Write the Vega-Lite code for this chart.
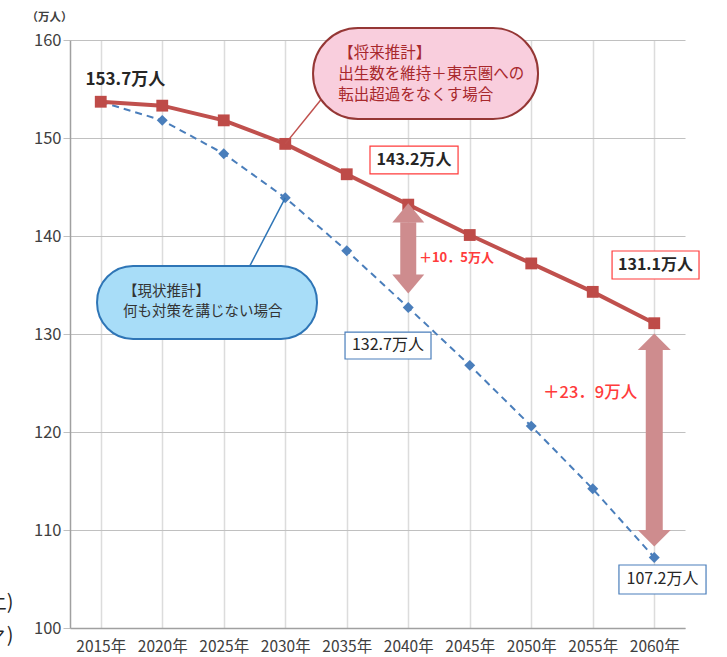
{
  "$schema": "https://vega.github.io/schema/vega-lite/v6.json",
  "width": 615,
  "height": 588,
  "autosize": {"type": "none"},
  "padding": {"left": 70, "top": 40, "right": 42, "bottom": 29},
  "config": {"view": {"stroke": null}, "font": "Noto Sans CJK JP"},
  "datasets": {
    "pop": [
      {"year": 2015, "series": "将来推計", "value": 153.7},
      {"year": 2020, "series": "将来推計", "value": 153.3},
      {"year": 2025, "series": "将来推計", "value": 151.8},
      {"year": 2030, "series": "将来推計", "value": 149.4},
      {"year": 2035, "series": "将来推計", "value": 146.3},
      {"year": 2040, "series": "将来推計", "value": 143.2},
      {"year": 2045, "series": "将来推計", "value": 140.1},
      {"year": 2050, "series": "将来推計", "value": 137.2},
      {"year": 2055, "series": "将来推計", "value": 134.3},
      {"year": 2060, "series": "将来推計", "value": 131.1},
      {"year": 2015, "series": "現状推計", "value": 153.7},
      {"year": 2020, "series": "現状推計", "value": 151.8},
      {"year": 2025, "series": "現状推計", "value": 148.4},
      {"year": 2030, "series": "現状推計", "value": 143.9},
      {"year": 2035, "series": "現状推計", "value": 138.5},
      {"year": 2040, "series": "現状推計", "value": 132.7},
      {"year": 2045, "series": "現状推計", "value": 126.8},
      {"year": 2050, "series": "現状推計", "value": 120.6},
      {"year": 2055, "series": "現状推計", "value": 114.2},
      {"year": 2060, "series": "現状推計", "value": 107.2}
    ],
    "anno": [{"note": "annotation"}]
  },
  "layer": [
    {
      "data": {"name": "pop"},
      "transform": [{"filter": "datum.series === '現状推計'"}],
      "mark": {"type": "line", "color": "#4A7EBB", "strokeWidth": 2, "strokeDash": [7, 5]},
      "encoding": {
        "x": {
          "field": "year",
          "type": "quantitative",
          "scale": {"domain": [2012.5, 2062.5], "nice": false, "zero": false},
          "axis": {
            "values": [2015, 2020, 2025, 2030, 2035, 2040, 2045, 2050, 2055, 2060],
            "labelExpr": "datum.value + '年'",
            "title": null,
            "grid": true,
            "gridColor": "#DCDCDC",
            "gridWidth": 1.5,
            "ticks": false,
            "domainColor": "#A0A0A0",
            "domainWidth": 1.5,
            "labelFontSize": 15.5,
            "labelColor": "#404040",
            "labelPadding": 11,
            "labelFlush": false,
            "labelOverlap": false
          }
        },
        "y": {
          "field": "value",
          "type": "quantitative",
          "scale": {"domain": [100, 160], "nice": false, "zero": false},
          "axis": {
            "values": [100, 110, 120, 130, 140, 150, 160],
            "title": "（万人）",
            "titleAngle": 0,
            "titleX": -21,
            "titleY": -23,
            "titleAlign": "center",
            "titleBaseline": "middle",
            "titleFontSize": 11.5,
            "titleFontWeight": "bold",
            "titleColor": "#404040",
            "grid": true,
            "gridColor": "#C0C0C0",
            "gridWidth": 1.2,
            "tickColor": "#C0C0C0",
            "tickSize": 7,
            "domainColor": "#A0A0A0",
            "domainWidth": 1.5,
            "labelFontSize": 16.5,
            "labelColor": "#404040",
            "labelPadding": 2
          }
        }
      }
    },
    {
      "data": {"name": "pop"},
      "transform": [{"filter": "datum.series === '現状推計'"}],
      "mark": {"type": "point", "shape": "diamond", "filled": true, "size": 120, "color": "#4A7EBB", "opacity": 1},
      "encoding": {
        "x": {"field": "year", "type": "quantitative"},
        "y": {"field": "value", "type": "quantitative"}
      }
    },
    {
      "data": {"name": "pop"},
      "transform": [{"filter": "datum.series === '将来推計'"}],
      "mark": {"type": "line", "color": "#C0504D", "strokeWidth": 4},
      "encoding": {
        "x": {"field": "year", "type": "quantitative"},
        "y": {"field": "value", "type": "quantitative"}
      }
    },
    {
      "data": {"name": "pop"},
      "transform": [{"filter": "datum.series === '将来推計'"}],
      "mark": {"type": "square", "size": 140, "color": "#BE4B48", "opacity": 1},
      "encoding": {
        "x": {"field": "year", "type": "quantitative"},
        "y": {"field": "value", "type": "quantitative"}
      }
    },
    {
      "data": {"name": "anno"},
      "mark": {"type": "rule", "color": "#C0504D", "strokeWidth": 1.5},
      "encoding": {
        "x": {"datum": 2030, "type": "quantitative"},
        "y": {"datum": 149.4, "type": "quantitative"},
        "x2": {"datum": 2032.9},
        "y2": {"datum": 153.9}
      }
    },
    {
      "data": {"name": "anno"},
      "mark": {"type": "rule", "color": "#2E75B6", "strokeWidth": 1.5},
      "encoding": {
        "x": {"datum": 2030, "type": "quantitative"},
        "y": {"datum": 143.9, "type": "quantitative"},
        "x2": {"datum": 2027.1},
        "y2": {"datum": 136.9}
      }
    },
    {
      "data": {"name": "anno"},
      "mark": {"type": "rect", "fill": "#F9CEDD", "stroke": "#953735", "strokeWidth": 2, "cornerRadius": 45},
      "encoding": {
        "x": {"datum": 2032.26, "type": "quantitative"},
        "x2": {"datum": 2050.55},
        "y": {"datum": 161.22, "type": "quantitative"},
        "y2": {"datum": 151.94}
      }
    },
    {
      "data": {"name": "anno"},
      "mark": {"type": "text", "text": ["【将来推計】", "出生数を維持＋東京圏への", "転出超過をなくす場合"], "align": "left", "baseline": "middle", "lineHeight": 21, "fontSize": 15.5, "color": "#A8282C"},
      "encoding": {
        "x": {"datum": 2034.3, "type": "quantitative"},
        "y": {"datum": 158.67, "type": "quantitative"}
      }
    },
    {
      "data": {"name": "anno"},
      "mark": {"type": "rect", "fill": "#A8DDF8", "stroke": "#2E75B6", "strokeWidth": 2, "cornerRadius": 36},
      "encoding": {
        "x": {"datum": 2014.7, "type": "quantitative"},
        "x2": {"datum": 2032.58},
        "y": {"datum": 136.94, "type": "quantitative"},
        "y2": {"datum": 129.49}
      }
    },
    {
      "data": {"name": "anno"},
      "mark": {"type": "text", "text": ["【現状推計】", "何も対策を講じない場合"], "align": "left", "baseline": "middle", "lineHeight": 20, "fontSize": 14.5, "color": "#333333"},
      "encoding": {
        "x": {"datum": 2016.8, "type": "quantitative"},
        "y": {"datum": 134.29, "type": "quantitative"}
      }
    },
    {
      "data": {"name": "anno"},
      "mark": {"type": "rule", "color": "#CE8C8E", "strokeWidth": 16},
      "encoding": {
        "x": {"datum": 2040, "type": "quantitative"},
        "y": {"datum": 141.4, "type": "quantitative"},
        "y2": {"datum": 135.9}
      }
    },
    {
      "data": {"name": "anno"},
      "mark": {"type": "point", "shape": "M0,-0.6L1,0.6L-1,0.6Z", "size": 1024, "filled": true, "color": "#CE8C8E", "opacity": 1},
      "encoding": {
        "x": {"datum": 2040, "type": "quantitative"},
        "y": {"datum": 142.35, "type": "quantitative"}
      }
    },
    {
      "data": {"name": "anno"},
      "mark": {"type": "point", "shape": "M0,0.6L1,-0.6L-1,-0.6Z", "size": 1024, "filled": true, "color": "#CE8C8E", "opacity": 1},
      "encoding": {
        "x": {"datum": 2040, "type": "quantitative"},
        "y": {"datum": 135.1, "type": "quantitative"}
      }
    },
    {
      "data": {"name": "anno"},
      "mark": {"type": "rule", "color": "#CE8C8E", "strokeWidth": 17},
      "encoding": {
        "x": {"datum": 2060, "type": "quantitative"},
        "y": {"datum": 128.5, "type": "quantitative"},
        "y2": {"datum": 110.0}
      }
    },
    {
      "data": {"name": "anno"},
      "mark": {"type": "point", "shape": "M0,-0.5L1,0.5L-1,0.5Z", "size": 1089, "filled": true, "color": "#CE8C8E", "opacity": 1},
      "encoding": {
        "x": {"datum": 2060, "type": "quantitative"},
        "y": {"datum": 129.2, "type": "quantitative"}
      }
    },
    {
      "data": {"name": "anno"},
      "mark": {"type": "point", "shape": "M0,0.5L1,-0.5L-1,-0.5Z", "size": 1089, "filled": true, "color": "#CE8C8E", "opacity": 1},
      "encoding": {
        "x": {"datum": 2060, "type": "quantitative"},
        "y": {"datum": 109.15, "type": "quantitative"}
      }
    },
    {
      "data": {"name": "anno"},
      "mark": {"type": "rect", "fill": "white", "stroke": "#FF3B3B", "strokeWidth": 1.2},
      "encoding": {
        "x": {"datum": 2036.89, "type": "quantitative"},
        "x2": {"datum": 2044.05},
        "y": {"datum": 149.18, "type": "quantitative"},
        "y2": {"datum": 146.33}
      }
    },
    {
      "data": {"name": "anno"},
      "mark": {"type": "text", "text": "143.2万人", "fontSize": 16, "fontWeight": "bold", "color": "#262626", "align": "center", "baseline": "middle"},
      "encoding": {
        "x": {"datum": 2040.47, "type": "quantitative"},
        "y": {"datum": 147.76, "type": "quantitative"}
      }
    },
    {
      "data": {"name": "anno"},
      "mark": {"type": "rect", "fill": "white", "stroke": "#FF3B3B", "strokeWidth": 1.2},
      "encoding": {
        "x": {"datum": 2056.57, "type": "quantitative"},
        "x2": {"datum": 2063.64},
        "y": {"datum": 138.47, "type": "quantitative"},
        "y2": {"datum": 135.61}
      }
    },
    {
      "data": {"name": "anno"},
      "mark": {"type": "text", "text": "131.1万人", "fontSize": 16, "fontWeight": "bold", "color": "#262626", "align": "center", "baseline": "middle"},
      "encoding": {
        "x": {"datum": 2060.1, "type": "quantitative"},
        "y": {"datum": 137.04, "type": "quantitative"}
      }
    },
    {
      "data": {"name": "anno"},
      "mark": {"type": "rect", "fill": "white", "stroke": "#4A7EBB", "strokeWidth": 1.2},
      "encoding": {
        "x": {"datum": 2034.86, "type": "quantitative"},
        "x2": {"datum": 2041.85},
        "y": {"datum": 130.2, "type": "quantitative"},
        "y2": {"datum": 127.45}
      }
    },
    {
      "data": {"name": "anno"},
      "mark": {"type": "text", "text": "132.7万人", "fontSize": 16, "color": "#262626", "align": "center", "baseline": "middle"},
      "encoding": {
        "x": {"datum": 2038.35, "type": "quantitative"},
        "y": {"datum": 128.83, "type": "quantitative"}
      }
    },
    {
      "data": {"name": "anno"},
      "mark": {"type": "rect", "fill": "white", "stroke": "#4A7EBB", "strokeWidth": 1.2},
      "encoding": {
        "x": {"datum": 2057.13, "type": "quantitative"},
        "x2": {"datum": 2064.21},
        "y": {"datum": 106.43, "type": "quantitative"},
        "y2": {"datum": 103.47}
      }
    },
    {
      "data": {"name": "anno"},
      "mark": {"type": "text", "text": "107.2万人", "fontSize": 16, "color": "#262626", "align": "center", "baseline": "middle"},
      "encoding": {
        "x": {"datum": 2060.67, "type": "quantitative"},
        "y": {"datum": 104.95, "type": "quantitative"}
      }
    },
    {
      "data": {"name": "anno"},
      "mark": {"type": "text", "text": "153.7万人", "fontSize": 17, "fontWeight": "bold", "color": "#262626", "align": "center", "baseline": "middle"},
      "encoding": {
        "x": {"datum": 2017.0, "type": "quantitative"},
        "y": {"datum": 155.92, "type": "quantitative"}
      }
    },
    {
      "data": {"name": "anno"},
      "mark": {"type": "text", "text": "＋10．5万人", "fontSize": 13, "fontWeight": "bold", "color": "#FF3B3B", "align": "left", "baseline": "middle"},
      "encoding": {
        "x": {"datum": 2040.87, "type": "quantitative"},
        "y": {"datum": 137.76, "type": "quantitative"}
      }
    },
    {
      "data": {"name": "anno"},
      "mark": {"type": "text", "text": "＋23．9万人", "fontSize": 16.5, "fontWeight": 500, "color": "#FF3B3B", "align": "left", "baseline": "middle"},
      "encoding": {
        "x": {"datum": 2050.96, "type": "quantitative"},
        "y": {"datum": 123.98, "type": "quantitative"}
      }
    },
    {
      "data": {"name": "anno"},
      "mark": {"type": "text", "text": "上)", "fontSize": 20, "color": "#262626", "align": "right", "baseline": "middle"},
      "encoding": {
        "x": {"datum": 2007.9, "type": "quantitative"},
        "y": {"datum": 102.55, "type": "quantitative"}
      }
    },
    {
      "data": {"name": "anno"},
      "mark": {"type": "text", "text": "ァ)", "fontSize": 20, "color": "#262626", "align": "right", "baseline": "middle"},
      "encoding": {
        "x": {"datum": 2007.9, "type": "quantitative"},
        "y": {"datum": 99.2, "type": "quantitative"}
      }
    }
  ]
}
